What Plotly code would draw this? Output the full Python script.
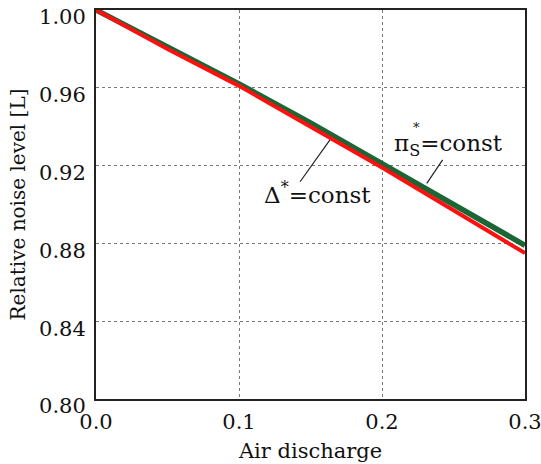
import plotly.graph_objects as go

air_discharge = [0.0, 0.05, 0.10, 0.15, 0.20, 0.25, 0.30]
pi_s_const = [1.000, 0.981, 0.962, 0.942, 0.921, 0.900, 0.879]
delta_const = [1.000, 0.980, 0.961, 0.940, 0.919, 0.897, 0.875]

x_ticks = [0.0, 0.1, 0.2, 0.3]
x_tick_labels = ["0.0", "0.1", "0.2", "0.3"]
y_ticks = [0.80, 0.84, 0.88, 0.92, 0.96, 1.00]
y_tick_labels = ["0.80", "0.84", "0.88", "0.92", "0.96", "1.00"]

FONT = "DejaVu Serif"
TXT = "#111"

fig = go.Figure()
fig.add_trace(go.Scatter(x=air_discharge, y=pi_s_const, mode="lines",
                         line=dict(color="#1a6634", width=5.5), name="pi_s*=const",
                         hoverinfo="skip"))
fig.add_trace(go.Scatter(x=air_discharge, y=delta_const, mode="lines",
                         line=dict(color="#ff1010", width=4), name="Delta*=const",
                         hoverinfo="skip"))

# pointer lines
fig.add_shape(type="line", xref="x", yref="y", x0=0.2424, y0=0.9229, x1=0.2313, y1=0.9109,
              line=dict(color="#222", width=1.2))
fig.add_shape(type="line", xref="x", yref="y", x0=0.1427, y0=0.9117, x1=0.1636, y1=0.9332,
              line=dict(color="#222", width=1.2))

fig.add_annotation(x=0.2070, y=0.9306, xref="x", yref="y", xanchor="left", yanchor="middle",
                   text="π<sub>S</sub>=const", showarrow=False,
                   font=dict(family=FONT, size=23, color=TXT))
fig.add_annotation(x=0.2238, y=0.9398, xref="x", yref="y", xanchor="center", yanchor="middle",
                   text="*", showarrow=False,
                   font=dict(family=FONT, size=13, color=TXT))
fig.add_annotation(x=0.1160, y=0.9060, xref="x", yref="y", xanchor="left", yanchor="middle",
                   text="Δ<sup>*</sup>=const", showarrow=False,
                   font=dict(family=FONT, size=23, color=TXT))

axis_common = dict(showgrid=True, gridcolor="#7a7a7a", griddash="3px,3px", gridwidth=1,
                   showline=True, linecolor="#222", linewidth=2, mirror=True,
                   ticks="", zeroline=False, automargin=False,
                   ticklabeloverflow="allow",
                   tickfont=dict(family=FONT, size=21, color=TXT))

fig.update_xaxes(range=[0, 0.3], tickvals=x_ticks, ticktext=x_tick_labels,
                 ticklabelstandoff=3,
                 title=dict(text="Air discharge", font=dict(family=FONT, size=21, color=TXT),
                            standoff=10),
                 **axis_common)
fig.update_yaxes(range=[0.8, 1.0], tickvals=y_ticks, ticktext=y_tick_labels,
                 ticklabelstandoff=4, ticklabelshift=7,
                 title=dict(text="Relative noise level [L]", font=dict(family=FONT, size=20, color=TXT),
                            standoff=8),
                 **axis_common)

fig.update_layout(width=541, height=464, plot_bgcolor="white", paper_bgcolor="white",
                  margin=dict(l=96, r=16, t=10, b=65), showlegend=False,
                  hovermode=False)

fig.write_html("out.html", config={"displayModeBar": False, "staticPlot": True},
               post_script="document.body.style.margin='0';")
